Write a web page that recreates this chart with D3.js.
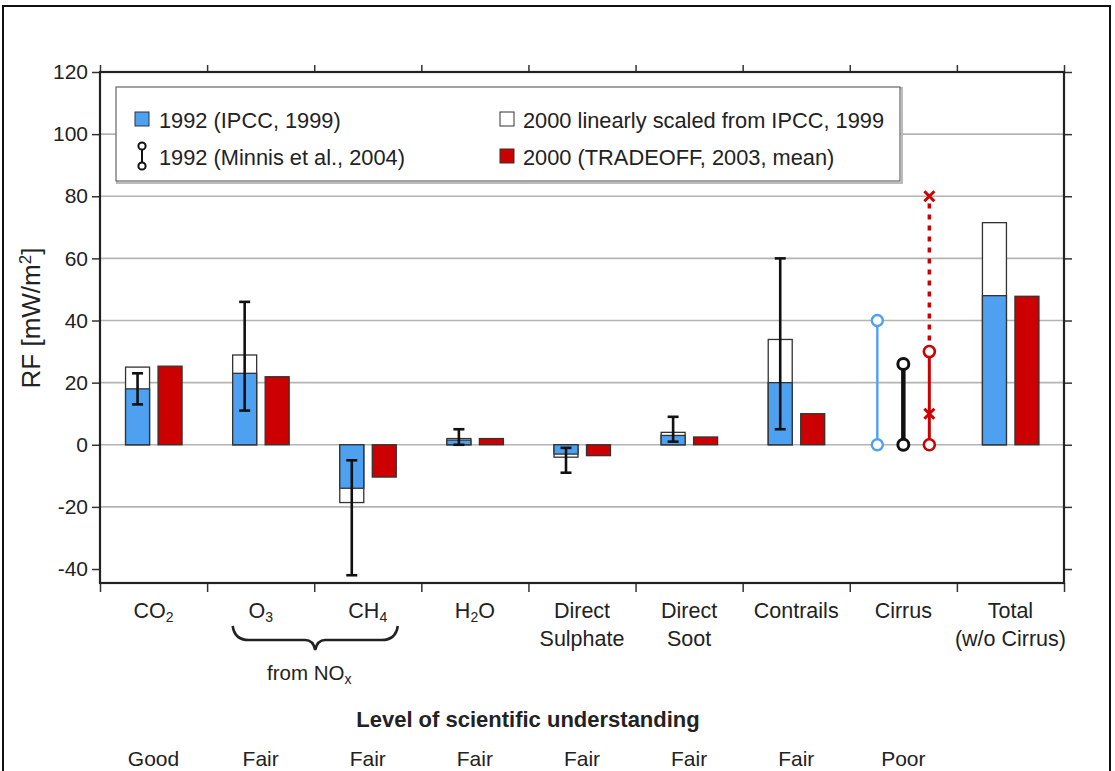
<html>
<head>
  <meta charset="utf-8">
  <script src="https://d3js.org/d3.v7.min.js"></script>
</head>
<style>
  body { margin: 0; background: white; }
  text { font-family: "Liberation Sans", Arial, sans-serif; fill: #222; }
  .grid line { stroke: #b4b4b4; stroke-width: 1.6px; }
</style>
<body>
  <svg id="chart" width="1115" height="771"></svg>
  <script>
    // categories and values (mW/m2)
    const categories = ["CO2", "O3", "CH4", "H2O", "Direct Sulphate", "Direct Soot", "Contrails", "Cirrus", "Total (w/o Cirrus)"];
    const ipcc1992 = [18, 23, -14, 1.5, -3, 3, 20, null, 48];
    const scaled2000 = [25, 28.9, -18.6, 2, -4, 4, 33.9, null, 71.5];
    const tradeoff2000 = [25.3, 21.9, -10.4, 2, -3.5, 2.5, 10, null, 47.8];
    const errLow = [13, 11, -42, 0, -1, 1, 5, null, null];
    const errHigh = [23, 46, -5, 5, -9, 9, 60, null, null];
    // cirrus ranges
    const ipccCirrus = [0, 40];
    const minnisCirrus = [0, 26];
    const tradeoffCirrusSolid = [0, 30];
    const tradeoffCirrusDotted = [30, 80];
    const tradeoffCirrusCircles = [0, 30];
    const tradeoffCirrusCrosses = [10, 80];
    const understanding = ["Good", "Fair", "Fair", "Fair", "Fair", "Fair", "Fair", "Poor", ""];
    const yTicks = [-40, -20, 0, 20, 40, 60, 80, 100, 120];

    const blue = "#4ea1f0", red = "#cc0000";

    const svg = d3.select("svg#chart");
    const margin = { left: 100, right: 1064, top: 72, bottom: 583 };

    // outer frame
    svg.append("rect").attr("x", 3).attr("y", 6).attr("width", 1107).attr("height", 820)
      .attr("fill", "none").attr("stroke", "#111").attr("stroke-width", 2);

    const x = d3.scaleBand().domain(categories).range([margin.left, margin.right]);
    const y = d3.scaleLinear().domain([-44.5, 120]).range([margin.bottom, margin.top]);

    // grid
    svg.append("g").attr("class", "grid")
      .selectAll("line").data(yTicks.slice(1, -1)).join("line")
      .attr("x1", margin.left).attr("x2", margin.right)
      .attr("y1", d => y(d)).attr("y2", d => y(d));

    // legend box
    const lg = svg.append("g");
    lg.append("rect").attr("x", 117).attr("y", 88).attr("width", 785).attr("height", 95)
      .attr("fill", "none").attr("stroke", "#bbb").attr("stroke-width", 2);
    lg.append("rect").attr("x", 116).attr("y", 87).attr("width", 784).attr("height", 94)
      .attr("fill", "white").attr("stroke", "#666").attr("stroke-width", 1.2);
    lg.append("rect").attr("x", 135).attr("y", 112).attr("width", 14).attr("height", 14)
      .attr("fill", blue).attr("stroke", "#333");
    lg.append("rect").attr("x", 500).attr("y", 112).attr("width", 14).attr("height", 14)
      .attr("fill", "white").attr("stroke", "#333");
    lg.append("rect").attr("x", 500).attr("y", 149).attr("width", 14).attr("height", 14)
      .attr("fill", red).attr("stroke", "#333");
    lg.append("line").attr("x1", 142).attr("x2", 142).attr("y1", 147).attr("y2", 166)
      .attr("stroke", "#111").attr("stroke-width", 2);
    [146, 166].forEach(cy => lg.append("circle").attr("cx", 142).attr("cy", cy).attr("r", 3.6)
      .attr("fill", "white").attr("stroke", "#111").attr("stroke-width", 2));
    const legendText = [
      { t: "1992 (IPCC, 1999)", x: 159, y: 128 },
      { t: "1992 (Minnis et al., 2004)", x: 159, y: 165 },
      { t: "2000 linearly scaled from IPCC, 1999", x: 523, y: 128 },
      { t: "2000 (TRADEOFF, 2003, mean)", x: 523, y: 165 }
    ];
    lg.selectAll("text").data(legendText).join("text")
      .attr("x", d => d.x).attr("y", d => d.y).attr("font-size", 21.8).text(d => d.t);

    // bars
    const bw = 24;
    const cx = c => x(c) + x.bandwidth() / 2;
    const bars = svg.append("g");
    categories.forEach((c, i) => {
      if (scaled2000[i] != null) {
        bars.append("rect").attr("x", cx(c) - 28).attr("width", bw)
          .attr("y", y(Math.max(0, scaled2000[i]))).attr("height", Math.abs(y(scaled2000[i]) - y(0)))
          .attr("fill", "white").attr("stroke", "#333").attr("stroke-width", 1.3);
      }
      if (ipcc1992[i] != null) {
        bars.append("rect").attr("x", cx(c) - 28).attr("width", bw)
          .attr("y", y(Math.max(0, ipcc1992[i]))).attr("height", Math.abs(y(ipcc1992[i]) - y(0)))
          .attr("fill", blue).attr("stroke", "#333").attr("stroke-width", 1.3);
      }
      if (tradeoff2000[i] != null) {
        bars.append("rect").attr("x", cx(c) + 4.5).attr("width", bw)
          .attr("y", y(Math.max(0, tradeoff2000[i]))).attr("height", Math.abs(y(tradeoff2000[i]) - y(0)))
          .attr("fill", red).attr("stroke", "#333").attr("stroke-width", 1.3);
      }
      if (errLow[i] != null) {
        const ex = cx(c) - 16;
        bars.append("line").attr("x1", ex).attr("x2", ex).attr("y1", y(errLow[i])).attr("y2", y(errHigh[i]))
          .attr("stroke", "#111").attr("stroke-width", 2.6);
        [errLow[i], errHigh[i]].forEach(v => bars.append("line")
          .attr("x1", ex - 5.5).attr("x2", ex + 5.5).attr("y1", y(v)).attr("y2", y(v))
          .attr("stroke", "#111").attr("stroke-width", 2.6));
      }
    });

    // cirrus ranges
    const cc = cx("Cirrus");
    const cir = svg.append("g");
    cir.append("line").attr("x1", cc - 26).attr("x2", cc - 26).attr("y1", y(ipccCirrus[0])).attr("y2", y(ipccCirrus[1]))
      .attr("stroke", blue).attr("stroke-width", 2.4);
    ipccCirrus.forEach(v => cir.append("circle").attr("cx", cc - 26).attr("cy", y(v)).attr("r", 5.5)
      .attr("fill", "white").attr("stroke", blue).attr("stroke-width", 2.4));
    cir.append("line").attr("x1", cc).attr("x2", cc).attr("y1", y(minnisCirrus[0])).attr("y2", y(minnisCirrus[1]))
      .attr("stroke", "#111").attr("stroke-width", 4.5);
    minnisCirrus.forEach(v => cir.append("circle").attr("cx", cc).attr("cy", y(v)).attr("r", 5.5)
      .attr("fill", "white").attr("stroke", "#111").attr("stroke-width", 3));
    const rx = cc + 26;
    cir.append("line").attr("x1", rx).attr("x2", rx).attr("y1", y(tradeoffCirrusDotted[0])).attr("y2", y(tradeoffCirrusDotted[1]))
      .attr("stroke", red).attr("stroke-width", 3.5).attr("stroke-dasharray", "5,6");
    cir.append("line").attr("x1", rx).attr("x2", rx).attr("y1", y(tradeoffCirrusSolid[0])).attr("y2", y(tradeoffCirrusSolid[1]))
      .attr("stroke", red).attr("stroke-width", 3);
    tradeoffCirrusCrosses.forEach(v => {
      const cy = y(v);
      cir.append("path").attr("d", `M${rx - 5},${cy - 5}L${rx + 5},${cy + 5}M${rx - 5},${cy + 5}L${rx + 5},${cy - 5}`)
        .attr("stroke", red).attr("stroke-width", 3);
    });
    tradeoffCirrusCircles.forEach(v => cir.append("circle").attr("cx", rx).attr("cy", y(v)).attr("r", 5.5)
      .attr("fill", "white").attr("stroke", red).attr("stroke-width", 2.6));

    // axes
    const axisStyle = g => {
      g.select(".domain").remove();
      g.selectAll("line").attr("stroke", "#333").attr("stroke-width", 1.5);
      g.selectAll("text").attr("font-size", 21).attr("fill", "#222")
        .attr("font-family", '"Liberation Sans", Arial, sans-serif');
    };
    svg.append("g").attr("transform", `translate(${margin.left},0)`)
      .call(d3.axisLeft(y).tickValues(yTicks).tickSize(8).tickPadding(4).tickFormat(d => String(d)))
      .call(axisStyle);
    svg.append("g").attr("transform", `translate(${margin.right},0)`)
      .call(d3.axisRight(y).tickValues(yTicks).tickSize(8).tickFormat(""))
      .call(axisStyle);
    const bounds = categories.map(c => x(c)).concat([margin.right]);
    const xb = d3.scaleLinear().domain([margin.left, margin.right]).range([margin.left, margin.right]);
    svg.append("g").attr("transform", `translate(0,${margin.top})`)
      .call(d3.axisTop(xb).tickValues(bounds).tickSize(7).tickFormat(""))
      .call(axisStyle);
    svg.append("g").attr("transform", `translate(0,${margin.bottom})`)
      .call(d3.axisBottom(xb).tickValues(bounds).tickSize(9).tickFormat(""))
      .call(axisStyle);
    svg.append("rect").attr("x", margin.left).attr("y", margin.top)
      .attr("width", margin.right - margin.left).attr("height", margin.bottom - margin.top)
      .attr("fill", "none").attr("stroke", "#222").attr("stroke-width", 2.2);

    // y label
    const yl = svg.append("text").attr("transform", "translate(40,318) rotate(-90)")
      .attr("text-anchor", "middle").attr("font-size", 26);
    yl.append("tspan").text("RF [mW/m");
    yl.append("tspan").attr("baseline-shift", "super").attr("font-size", 17).text("2");
    yl.append("tspan").text("]");

    // category labels with subscripts
    const labelParts = {
      "CO2": [["CO", ""], ["2", "sub"]],
      "O3": [["O", ""], ["3", "sub"]],
      "CH4": [["CH", ""], ["4", "sub"]],
      "H2O": [["H", ""], ["2", "sub"], ["O", ""]]
    };
    const xl = svg.append("g").attr("font-size", 21.5);
    categories.forEach(c => {
      const lines = labelParts[c] ? [labelParts[c]]
        : c === "Total (w/o Cirrus)" ? [[["Total", ""]], [["(w/o Cirrus)", ""]]]
        : c.includes(" ") ? c.split(" ").map(w => [[w, ""]]) : [[[c, ""]]];
      lines.forEach((parts, li) => {
        const t = xl.append("text").attr("x", cx(c)).attr("y", 618 + li * 28).attr("text-anchor", "middle");
        parts.forEach(([s, k]) => {
          const sp = t.append("tspan").text(s);
          if (k === "sub") sp.attr("baseline-shift", "-25%").attr("font-size", 14);
        });
      });
    });

    // brace under O3 / CH4
    const b0 = cx("O3") - 28, b1 = cx("CH4") + 30, bm = (b0 + b1) / 2;
    svg.append("path")
      .attr("d", `M${b0},626 Q${b0 + 2},640 ${b0 + 16},640 L${bm - 10},640 Q${bm - 2},640 ${bm},650 Q${bm + 2},640 ${bm + 10},640 L${b1 - 16},640 Q${b1 - 2},640 ${b1},626`)
      .attr("fill", "none").attr("stroke", "#222").attr("stroke-width", 2.6);
    const nox = svg.append("text").attr("x", bm - 6).attr("y", 680).attr("text-anchor", "middle").attr("font-size", 20.5);
    nox.append("tspan").text("from NO");
    nox.append("tspan").attr("baseline-shift", "-25%").attr("font-size", 14).text("x");

    // level of understanding
    svg.append("text").attr("x", 528).attr("y", 727).attr("text-anchor", "middle")
      .attr("font-size", 22).attr("font-weight", "bold").text("Level of scientific understanding");
    svg.append("g").selectAll("text").data(categories).join("text")
      .attr("x", d => cx(d)).attr("y", 766).attr("text-anchor", "middle").attr("font-size", 21)
      .text((d, i) => understanding[i]);
  </script>
</body>
</html>
